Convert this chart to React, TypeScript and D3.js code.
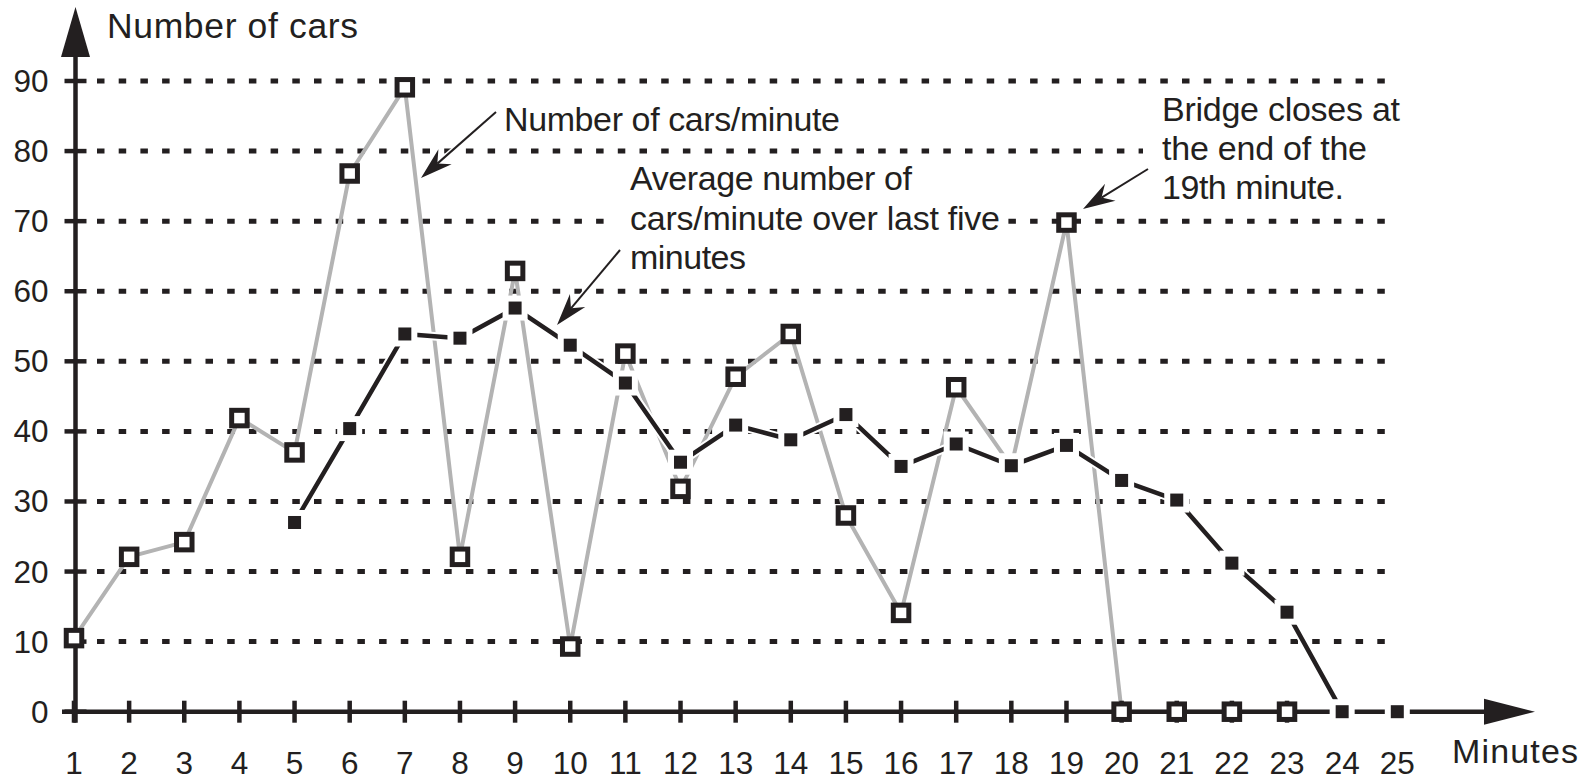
import React from "react";
import * as d3 from "d3";

// ---- data ----
const minutes = [1, 2, 3, 4, 5, 6, 7, 8, 9, 10, 11, 12, 13, 14, 15, 16, 17, 18, 19, 20, 21, 22, 23, 24, 25];
const yTicks = [0, 10, 20, 30, 40, 50, 60, 70, 80, 90];
const gridValues = [10, 20, 30, 40, 50, 60, 70, 80, 90];

const carsMinutes = [1, 2, 3, 4, 5, 6, 7, 8, 9, 10, 11, 12, 13, 14, 15, 16, 17, 18, 19, 20, 21, 22, 23];
const carsPerMinute = [10.5, 22.1, 24.2, 41.9, 37.0, 76.8, 89.1, 22.1, 62.9, 9.3, 51.1, 31.8, 47.8, 53.9, 28.0, 14.1, 46.3, 35.0, 69.8, 0, 0, 0, 0];

const avgMinutes = [5, 6, 7, 8, 9, 10, 11, 12, 13, 14, 15, 16, 17, 18, 19, 20, 21, 22, 23, 24, 25];
const avgCars = [27.0, 40.4, 53.9, 53.3, 57.6, 52.3, 46.9, 35.6, 40.9, 38.8, 42.4, 35.0, 38.2, 35.1, 38.0, 33.0, 30.2, 21.2, 14.2, 0, 0];

const yTitle = "Number of cars";
const xTitle = "Minutes";
const noteCars = ["Number of cars/minute"];
const noteAvg = ["Average number of", "cars/minute over last five", "minutes"];
const noteBridge = ["Bridge closes at", "the end of the", "19th minute."];

const W = 1593;
const H = 781;
const INK = "#231f20";
const GRAY = "#b3b3b3";
const FONT = "'Liberation Sans', Arial, Helvetica, sans-serif";

function arrowHead(sx: number, sy: number, tx: number, ty: number, L = 32, hw = 10) {
  const dx = tx - sx;
  const dy = ty - sy;
  const len = Math.hypot(dx, dy);
  const ux = dx / len;
  const uy = dy / len;
  const nx = -uy;
  const ny = ux;
  const bx = tx - L * ux;
  const by = ty - L * uy;
  const mx = tx - 0.68 * L * ux;
  const my = ty - 0.68 * L * uy;
  return {
    head: `M${tx},${ty}L${bx + hw * nx},${by + hw * ny}L${mx},${my}L${bx - hw * nx},${by - hw * ny}Z`,
    nx: mx,
    ny: my,
  };
}

function Arrow({ sx, sy, tx, ty }: { sx: number; sy: number; tx: number; ty: number }) {
  const a = arrowHead(sx, sy, tx, ty);
  return (
    <g>
      <line x1={sx} y1={sy} x2={a.nx} y2={a.ny} stroke="#fff" strokeWidth={5} />
      <line x1={sx} y1={sy} x2={a.nx} y2={a.ny} stroke={INK} strokeWidth={2} />
      <path d={a.head} fill={INK} />
    </g>
  );
}

export default function App() {
  const x = d3.scaleLinear().domain([1, 25]).range([74, 1397.3]);
  const y = d3.scaleLinear().domain([0, 90]).range([711.7, 81]);
  const y0 = y(0);
  const axisX = x(1) + 1.5;

  const line = d3
    .line<[number, number]>()
    .x((d) => x(d[0]))
    .y((d) => y(d[1]));

  const grayPts: [number, number][] = carsMinutes.map((m, i) => [m, carsPerMinute[i]]);
  const avgPts: [number, number][] = avgMinutes.map((m, i) => [m, avgCars[i]]);

  const gridStart = 97;
  const gridEnd = 1388;

  const hollow = 15.5;
  const filled = 13;

  return (
    <div style={{ position: "absolute", left: 0, top: 0 }}>
      <svg width={W} height={H} viewBox={`0 0 ${W} ${H}`} style={{ display: "block", background: "#fff" }}>
        <rect x={0} y={0} width={W} height={H} fill="#fff" />

        {/* dotted gridlines */}
        {gridValues.map((v) => (
          <line
            key={"g" + v}
            x1={gridStart}
            x2={gridEnd}
            y1={y(v)}
            y2={y(v)}
            stroke={INK}
            strokeWidth={5}
            strokeDasharray="7.5 14.2"
          />
        ))}

        {/* white boxes behind annotation text that sits on gridlines */}
        <rect x={614} y={203} width={394} height={34} fill="#fff" />
        <rect x={1143} y={134} width={250} height={34} fill="#fff" />

        {/* cars per minute line (gray) */}
        <path d={line(grayPts) || ""} fill="none" stroke={GRAY} strokeWidth={4} strokeLinejoin="round" />

        {/* axes */}
        <line x1={axisX} x2={axisX} y1={56} y2={y0 + 11} stroke={INK} strokeWidth={4.5} />
        <path d={`M${axisX},7L${axisX - 14.5},57L${axisX + 14.5},57Z`} fill={INK} />
        <line x1={62} x2={1486} y1={y0} y2={y0} stroke={INK} strokeWidth={4.5} />
        <path d={`M1535,${y0}L1484,${y0 - 13}L1484,${y0 + 13}Z`} fill={INK} />
        {yTicks.map((v) => (
          <line key={"yt" + v} x1={axisX - 11} x2={axisX + 11} y1={y(v)} y2={y(v)} stroke={INK} strokeWidth={4.5} />
        ))}
        {minutes.map((m) => (
          <line key={"xt" + m} x1={x(m)} x2={x(m)} y1={y0 - 11} y2={y0 + 11} stroke={INK} strokeWidth={4.5} />
        ))}

        {/* average line (black) with white casing */}
        <path d={line(avgPts) || ""} fill="none" stroke="#fff" strokeWidth={8.5} strokeLinejoin="round" />
        <path d={line(avgPts) || ""} fill="none" stroke={INK} strokeWidth={4.5} strokeLinejoin="round" />

        {/* hollow markers */}
        {grayPts.map((d, i) => (
          <rect
            key={"h" + i}
            x={x(d[0]) - hollow / 2}
            y={y(d[1]) - hollow / 2}
            width={hollow}
            height={hollow}
            fill="#fff"
            stroke={INK}
            strokeWidth={5}
          />
        ))}

        {/* filled markers with white halo */}
        {avgPts.map((d, i) => (
          <g key={"f" + i}>
            <rect x={x(d[0]) - 12.5} y={y(d[1]) - 12.5} width={25} height={25} fill="#fff" />
            <rect x={x(d[0]) - filled / 2} y={y(d[1]) - filled / 2} width={filled} height={filled} fill={INK} />
          </g>
        ))}

        {/* tick labels */}
        <g fontFamily={FONT} fontSize={31.5} fill={INK}>
          {yTicks.map((v) => (
            <text key={"yl" + v} x={48.5} y={y(v) + 11} textAnchor="end">
              {v}
            </text>
          ))}
          {minutes.map((m) => (
            <text key={"xl" + m} x={x(m)} y={773.5} textAnchor="middle">
              {m}
            </text>
          ))}
        </g>

        {/* titles */}
        <g fontFamily={FONT} fill={INK}>
          <text x={107} y={37.5} fontSize={35.5} textLength={251} lengthAdjust="spacing">
            {yTitle}
          </text>
          <text x={1452} y={763} fontSize={34} textLength={126} lengthAdjust="spacing">
            {xTitle}
          </text>
        </g>

        {/* annotations */}
        <g fontFamily={FONT} fontSize={34} fill={INK}>
          <text x={504} y={131} textLength={336} lengthAdjust="spacing">
            {noteCars[0]}
          </text>
          <text x={630} y={189.5} textLength={282} lengthAdjust="spacing">
            {noteAvg[0]}
          </text>
          <text x={630} y={229.5} textLength={370} lengthAdjust="spacing">
            {noteAvg[1]}
          </text>
          <text x={630} y={269} textLength={116} lengthAdjust="spacing">
            {noteAvg[2]}
          </text>
          <text x={1162} y={121} textLength={238} lengthAdjust="spacing">
            {noteBridge[0]}
          </text>
          <text x={1162} y={160} textLength={205} lengthAdjust="spacing">
            {noteBridge[1]}
          </text>
          <text x={1162} y={199} textLength={182} lengthAdjust="spacing">
            {noteBridge[2]}
          </text>
        </g>

        <Arrow sx={496} sy={112} tx={421} ty={178} />
        <Arrow sx={620} sy={250} tx={557} ty={325} />
        <Arrow sx={1148} sy={169} tx={1083} ty={209} />
      </svg>
    </div>
  );
}
